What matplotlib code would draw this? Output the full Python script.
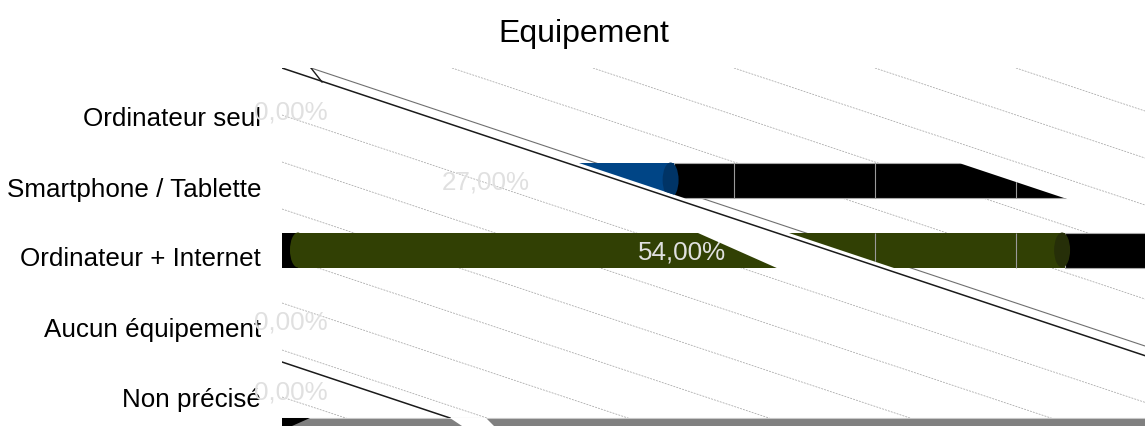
import matplotlib
matplotlib.use("Agg")
import matplotlib.pyplot as plt
from matplotlib.patches import Polygon, Ellipse, Rectangle, PathPatch
from matplotlib.path import Path
from matplotlib.transforms import Affine2D

# ---------------- data ----------------
title = "Equipement"
categories = ["Ordinateur seul", "Smartphone / Tablette", "Ordinateur + Internet",
              "Aucun équipement", "Non précisé"]
values = [0.0, 27.0, 54.0, 0.0, 0.0]
value_labels = ["0,00%", "27,00%", "54,00%", "0,00%", "0,00%"]

# ---------------- style ----------------
bar_colors = ["#004586", "#004586", "#314004", "#004586", "#004586"]
cap_colors = ["#003466", "#003466", "#262f08", "#003466", "#003466"]
show_left_part = [False, False, True, False, False]   # rendering glitch of the 3D bars

plt.rcParams['font.family'] = ['Liberation Sans', 'DejaVu Sans']

W, H = 1145, 426
DPI = 100
fig = plt.figure(figsize=(W / DPI, H / DPI), dpi=DPI, facecolor="white")

AX_L, AX_T = 282, 68
ax = fig.add_axes([AX_L / W, 0, (W - AX_L) / W, (H - AX_T) / H])
PX_PER_UNIT = 14.5
ax.set_xlim(0, (W - AX_L) / PX_PER_UNIT)
ROW0, ROW_STEP = 117, 70
ax.set_ylim((H - ROW0) / ROW_STEP, -(ROW0 - AX_T) / ROW_STEP)
for s in ax.spines.values():
    s.set_visible(False)
ax.set_xticks([])
ax.set_yticks(range(len(categories)))
ax.set_yticklabels(categories, fontsize=18.7, color="black")
ax.tick_params(axis="y", length=0, pad=15)

# pixel transform (image pixels, y downwards) for the skewed 3D decoration
PX = Affine2D().scale(1, -1).translate(0, H)
SLOPE = 3.0  # dx/dy of the skewed grid


def diag_x(y, x0):
    return x0 + SLOPE * (y - AX_T)


def pxline(x0, y0, x1, y1, **kw):
    ax.plot([x0, x1], [y0, y1], transform=PX, **kw)


grid_kw = dict(color="#a6a6a6", lw=0.55, ls=(0, (2.5, 1.5)), zorder=1)
STEP = 141
# lower-left grid family
for k in range(1, 8):
    y0 = AX_T + STEP / SLOPE * k
    pxline(AX_L, y0, AX_L + SLOPE * (H - y0) + 10, H + 3, **grid_kw)
# upper-right grid family
for k in range(1, 6):
    x0 = 311 + STEP * k
    pxline(x0, AX_T, x0 + SLOPE * (H - AX_T), H, **grid_kw)

# main skew lines
pxline(AX_L, AX_T, diag_x(H, AX_L), H, color="#1a1a1a", lw=1.1, zorder=1.5)
pxline(311, AX_T, diag_x(H, 311), H, color="#707070", lw=0.8, zorder=1.5)
pxline(311, AX_T, 322, 82, color="#1a1a1a", lw=1.0, zorder=1.5)
pxline(AX_L, 362, 450, 418, color="#1a1a1a", lw=1.1, zorder=1.5)

# floor
ax.add_patch(Polygon([(AX_L, 418), (W, 418), (W, H), (AX_L, H)], closed=True,
                     facecolor="#808080", edgecolor="none", transform=PX, zorder=2))
pxline(AX_L, 418.3, W, 418.3, color="#c8c8c8", lw=0.8, zorder=2.1)
ax.add_patch(Polygon([(AX_L, 418), (310, 418), (292, H), (AX_L, H)], closed=True,
                     facecolor="black", edgecolor="none", transform=PX, zorder=2.2))
ax.add_patch(Polygon([(450, 418), (486, 418), (494, H), (462, H)], closed=True,
                     facecolor="white", edgecolor="none", transform=PX, zorder=2.2))

# clip regions for the glitched bars
right_poly = [(diag_x(-20, AX_L + 12), -20), (W + 60, -20), (W + 60, H + 20),
              (diag_x(H + 20, AX_L + 12), H + 20)]


def e_x(y):
    return 698 + 2.25 * (y - 233)


left_poly = [(-60, -20), (e_x(-20), -20), (e_x(H + 20), H + 20), (-60, H + 20)]
ext_poly = [(diag_x(-20, AX_L + 12), -20), (diag_x(-20, AX_L + 392), -20),
            (diag_x(H + 20, AX_L + 392), H + 20), (diag_x(H + 20, AX_L + 12), H + 20)]


def make_clip(polys):
    paths = [Path(list(p) + [p[0]], closed=True) for p in polys]
    path = Path.make_compound_path(*paths) if len(paths) > 1 else paths[0]
    patch = PathPatch(path, transform=PX, facecolor="none", edgecolor="none")
    return patch


BAR_H = 0.5
SHIFT = -0.1
EXT = 40
CAP_W = 1.1
for i, v in enumerate(values):
    if v <= 0:
        continue
    y = i + SHIFT
    main_clip = make_clip([right_poly, left_poly] if show_left_part[i] else [right_poly])
    ext_clip = make_clip([ext_poly])
    main = ax.barh(y, v, height=BAR_H, color=bar_colors[i], zorder=3)[0]
    ext = ax.barh(y, EXT, left=v, height=BAR_H, color="black",
                  edgecolor="#a8a8a8", lw=0.8, zorder=2.5)[0]
    back = Rectangle((0, y - BAR_H / 2), CAP_W, BAR_H, facecolor="black", zorder=3.1)
    front = Ellipse((CAP_W, y), CAP_W, BAR_H, facecolor=bar_colors[i], zorder=3.2)
    cap = Ellipse((v - 0.2, y), CAP_W, BAR_H, facecolor=cap_colors[i], zorder=3.3)
    for p in (back, front, cap):
        ax.add_patch(p)
    for art in (main, back, front, cap):
        art.set_clip_path(main_clip)
    ext.set_clip_path(ext_clip)
    # light separators inside the extruded part
    for xp in (734, 875, 1016):
        ln = ax.vlines((xp - AX_L) / PX_PER_UNIT, y - BAR_H / 2, y + BAR_H / 2,
                       colors="#9a9a9a", lw=0.8, zorder=3.4)
        ln.set_clip_path(make_clip([ext_poly]))

# value labels
for i, (v, lab) in enumerate(zip(values, value_labels)):
    ax.annotate(lab, xy=(v / 2, i + SHIFT), xytext=(6, 0), textcoords="offset points",
                ha="center", va="center_baseline", fontsize=18.7, color="#e0e0e0",
                zorder=6, annotation_clip=False)

fig.text(584 / W, 1 - 42 / H, title, ha="center", va="baseline", fontsize=23, color="black")

fig.savefig("out.png", dpi=DPI, facecolor="white")
